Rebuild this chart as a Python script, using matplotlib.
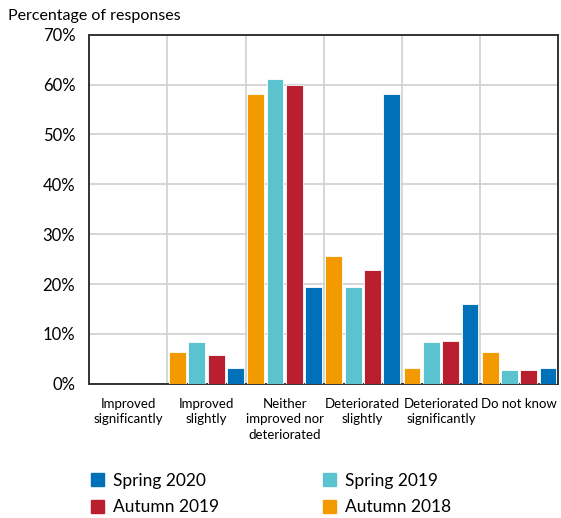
import matplotlib.pyplot as plt
import numpy as np
from matplotlib.patches import Patch
from matplotlib.ticker import FixedLocator, PercentFormatter

plt.rcParams['font.family'] = ['Lato', 'DejaVu Sans']

categorias = ['Improved\nsignificantly', 'Improved\nslightly',
              'Neither\nimproved nor\ndeteriorated', 'Deteriorated\nslightly',
              'Deteriorated\nsignificantly', 'Do not know']

autumn_2018 = [0, 6.4, 58.1, 25.6, 3.2, 6.4]
spring_2019 = [0, 8.3, 61.1, 19.4, 8.3, 2.8]
autumn_2019 = [0, 5.7, 60.0, 22.9, 8.6, 2.8]
spring_2020 = [0, 3.2, 19.4, 58.1, 16.1, 3.2]

series = [('Autumn 2018', autumn_2018, '#F39A00'),
          ('Spring 2019', spring_2019, '#5BC2D0'),
          ('Autumn 2019', autumn_2019, '#BA1F2F'),
          ('Spring 2020', spring_2020, '#0070B8')]

fig = plt.figure(figsize=(5.61, 5.18), dpi=100)
ax = fig.add_axes([0.159, 0.259, 0.836, 0.674])

x = np.arange(len(categorias))
ancho = 0.215
paso = 0.247
for i, (nombre, valores, color) in enumerate(series):
    ax.bar(x + (i - 1.5) * paso, valores, width=ancho, color=color,
           edgecolor='white', linewidth=0.6, zorder=3, label=nombre)

ax.set_xlim(-0.5, len(categorias) - 0.5)
ax.set_ylim(0, 70)
ax.set_yticks(range(0, 71, 10))
ax.yaxis.set_major_formatter(PercentFormatter(decimals=0))
ax.set_xticks(x)
ax.set_xticklabels(categorias, fontsize=9.5, linespacing=1.35)
ax.xaxis.set_minor_locator(FixedLocator(np.arange(0.5, len(categorias) - 0.5, 1)))
ax.tick_params(axis='x', which='both', length=0, pad=10)
ax.tick_params(axis='y', length=0, labelsize=12, pad=10)

# rejilla horizontal y separadores entre categorias
ax.grid(True, axis='y', color='#d0d0d0', linewidth=1.2, zorder=0)
ax.grid(True, axis='x', which='minor', color='#d0d0d0', linewidth=1.2, zorder=0)
ax.set_axisbelow(True)
for lado in ax.spines.values():
    lado.set_color('#333333')
    lado.set_linewidth(1.4)

fig.text(0.014, 0.961, 'Percentage of responses', fontsize=11.5)

# leyenda en dos columnas debajo del grafico
orden = [3, 2, 1, 0]
handles = [Patch(color=series[k][2], label=series[k][0]) for k in orden]
fig.legend(handles=handles, loc='lower left', bbox_to_anchor=(0.135, -0.025),
           ncol=2, frameon=False, fontsize=12.5, handlelength=0.75,
           handleheight=0.75, handletextpad=0.5, columnspacing=6.0,
           labelspacing=0.62)

fig.savefig('out.png', dpi=100)
